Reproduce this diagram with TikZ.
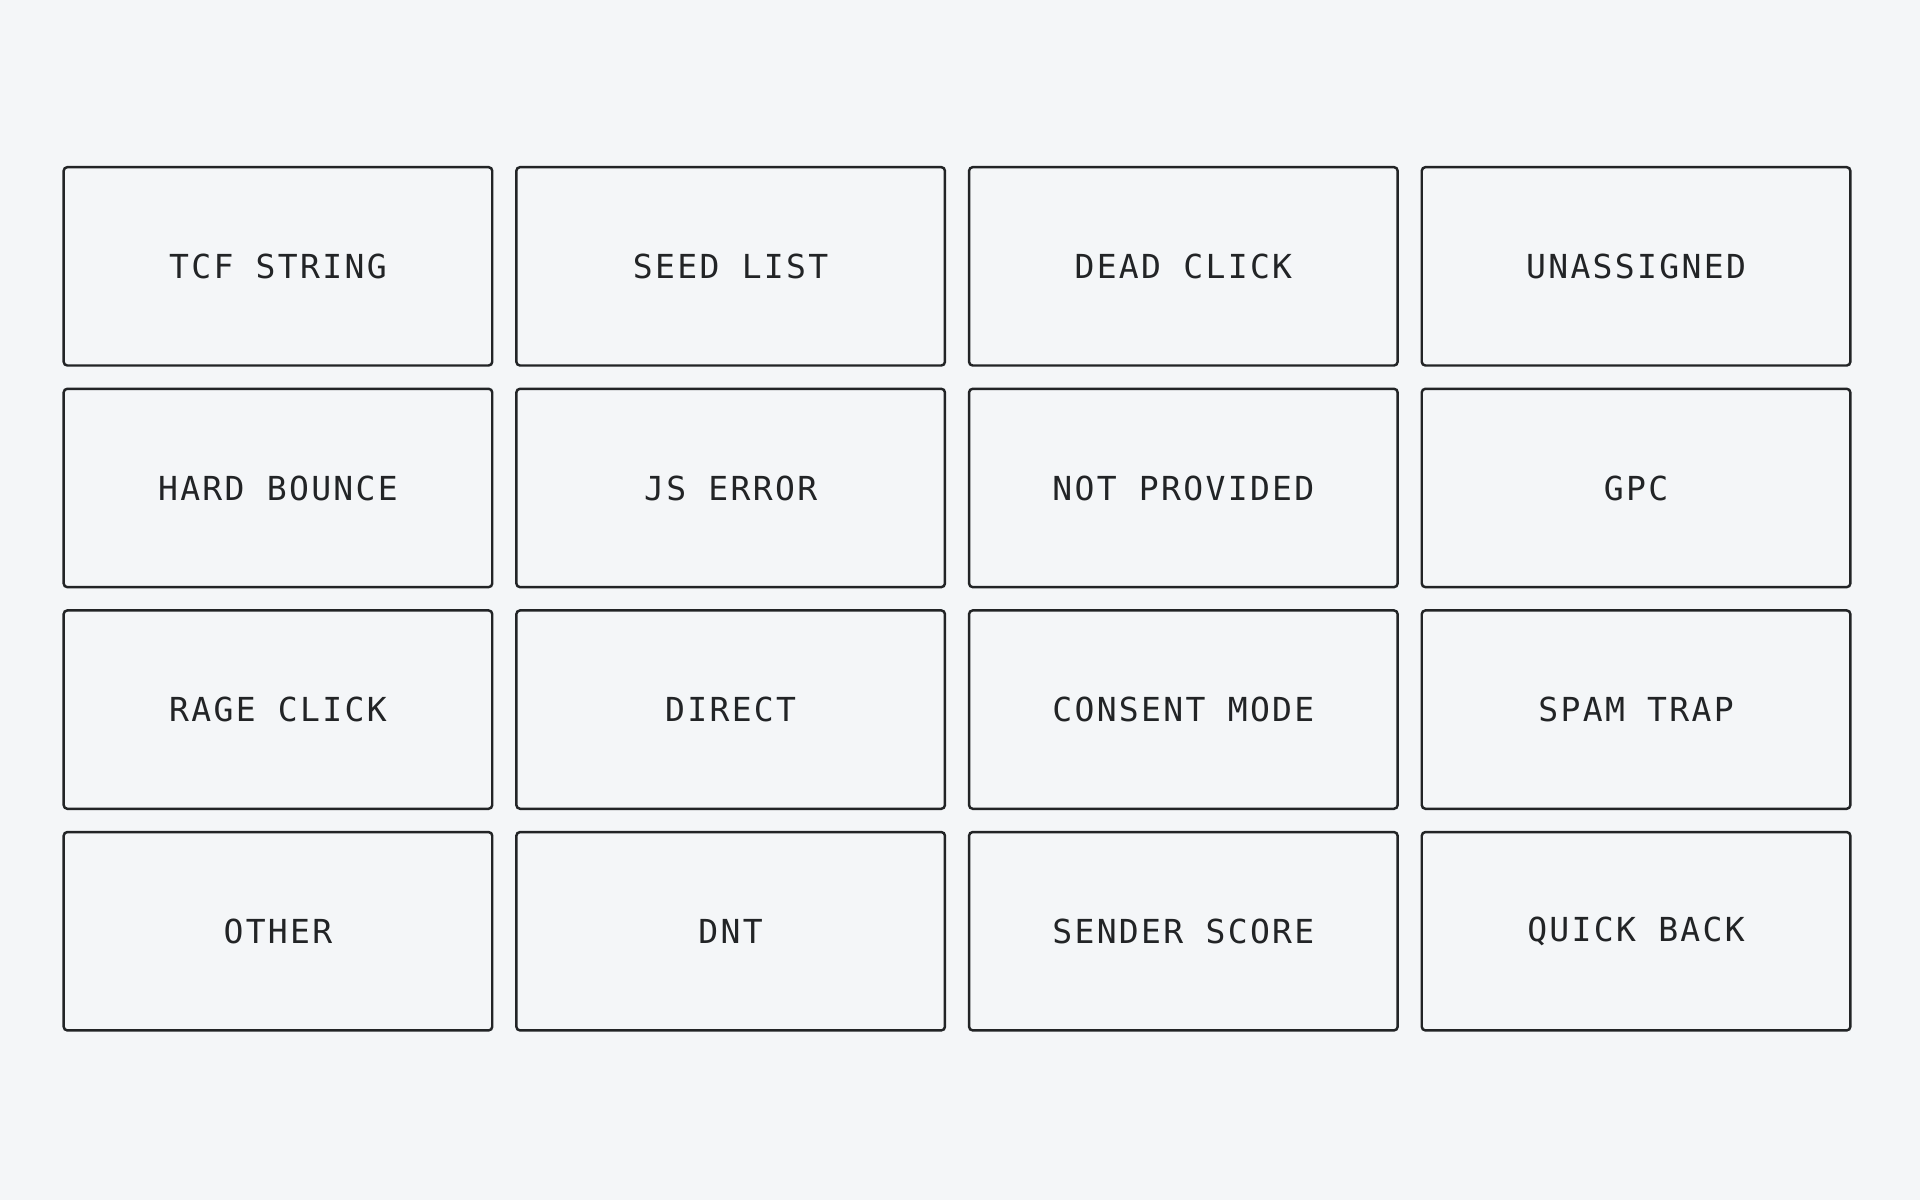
\documentclass[tikz,border=0pt]{standalone}
\usepackage{fontspec}
\setmonofont[LetterSpace=7]{DejaVu Sans Mono}
\usetikzlibrary{positioning}
\definecolor{bgcol}{HTML}{F4F6F8}
\definecolor{inkcol}{HTML}{222426}
\tikzset{
  tag/.style={draw=inkcol, line width=1pt, rounded corners=1.5pt,
    minimum width=175pt, minimum height=81pt, inner sep=0pt,
    text=inkcol, font=\ttfamily\fontsize{13.5}{16}\selectfont}
}
\begin{document}
\begin{tikzpicture}[x=0.5pt,y=-0.5pt]
  % background and bounds
  \fill[bgcol] (0,0) rectangle (1568,980);
  \useasboundingbox (0,0) rectangle (1568,980);

  % grid of tags
  \foreach \name/\txt [count=\i from 0] in {
    tcf/TCF STRING, seed/SEED LIST, dead/DEAD CLICK, unas/UNASSIGNED,
    hard/HARD BOUNCE, jserr/JS ERROR, notprov/NOT PROVIDED, gpc/GPC,
    rage/RAGE CLICK, direct/DIRECT, consent/CONSENT MODE, spam/SPAM TRAP,
    other/OTHER, dnt/DNT, sender/SENDER SCORE, quick/QUICK BACK} {
    \pgfmathtruncatemacro{\col}{mod(\i,4)}
    \pgfmathtruncatemacro{\row}{div(\i,4)}
    \node[tag] (\name) at ({227+369.7*\col},{217.5+181*\row}) {\txt};
  }
\end{tikzpicture}
\end{document}
